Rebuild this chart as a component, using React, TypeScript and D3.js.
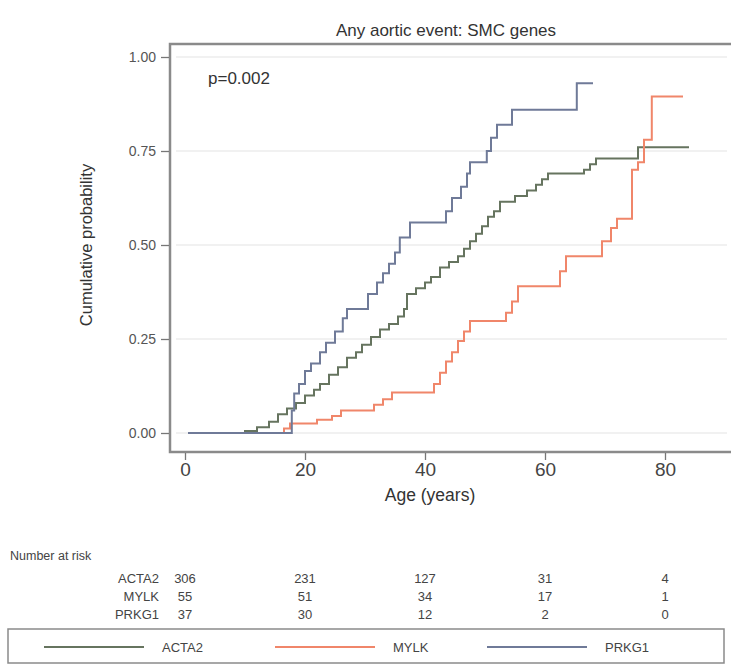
import React, { useEffect, useRef } from 'react';
import * as d3 from 'd3';

// step points: [age at which curve jumps, cumulative probability after jump]
const acta2 = [
  [0.5, 0], [10, 0.005], [12, 0.015], [14, 0.03], [15.5, 0.05], [17, 0.065], [18.5, 0.08],
  [20, 0.1], [21.5, 0.115], [22.5, 0.13], [24, 0.155], [25.5, 0.175], [27, 0.2], [28.5, 0.215],
  [29.5, 0.235], [31, 0.255], [32.5, 0.275], [34, 0.29], [35.5, 0.31], [36.5, 0.33], [37, 0.37],
  [38.5, 0.385], [40, 0.4], [41, 0.415], [42.5, 0.44], [44, 0.455], [45.5, 0.47], [46.5, 0.49],
  [47.5, 0.51], [48.5, 0.53], [49.5, 0.55], [50.5, 0.575], [51.5, 0.59], [52.5, 0.615],
  [55, 0.63], [57, 0.645], [58.5, 0.66], [59.5, 0.675], [60.5, 0.69], [66.5, 0.7], [67.5, 0.715],
  [68.5, 0.73], [75.5, 0.76], [84, 0.76],
];
const mylk = [
  [0.5, 0], [16.5, 0.012], [17.5, 0.025], [22, 0.035], [24.5, 0.045], [26, 0.06], [31.5, 0.075],
  [33, 0.09], [34.5, 0.108], [41.5, 0.13], [42.5, 0.16], [43.5, 0.19], [44.5, 0.215],
  [45.5, 0.245], [46.5, 0.27], [47.5, 0.298], [53.5, 0.32], [54.5, 0.35], [55.5, 0.39],
  [62.5, 0.43], [63.5, 0.47], [69.5, 0.51], [71, 0.545], [72, 0.57], [74.5, 0.7], [75.5, 0.72],
  [76.5, 0.78], [77.8, 0.895], [83, 0.895],
];
const prkg1 = [
  [0.5, 0], [17.8, 0.06], [18.2, 0.105], [19, 0.13], [20, 0.165], [21, 0.185], [22.5, 0.215],
  [23.5, 0.24], [25, 0.27], [26.3, 0.305], [27, 0.33], [30.5, 0.37], [32, 0.4], [33, 0.425],
  [34, 0.45], [35, 0.48], [35.8, 0.52], [37.5, 0.56], [43.5, 0.59], [44.5, 0.625], [46, 0.655],
  [47, 0.69], [47.5, 0.72], [50.3, 0.75], [51, 0.785], [52, 0.82], [54.5, 0.86], [65.3, 0.93],
  [68, 0.93],
];

const groups = ['ACTA2', 'MYLK', 'PRKG1'];
const colors = ['#66745f', '#f0866a', '#6f7a98'];
const yTicks = [0, 0.25, 0.5, 0.75, 1];
const xTicks = [0, 20, 40, 60, 80];
const riskActa2 = [306, 231, 127, 31, 4];
const riskMylk = [55, 51, 34, 17, 1];
const riskPrkg1 = [37, 30, 12, 2, 0];

export default function App() {
  const ref = useRef<SVGSVGElement>(null);

  useEffect(() => {
    const svg = d3.select(ref.current);
    svg.selectAll('*').remove();
    const font = 'Liberation Sans, Arial, sans-serif';
    const txt = '#333';

    const left = 170, right = 733, top = 44, bottom = 452;
    const x = d3.scaleLinear().domain([0, 80]).range([185, 665]);
    const y = d3.scaleLinear().domain([0, 1]).range([433, 57]);

    svg.append('rect').attr('width', 731).attr('height', 668).attr('fill', '#fff');

    // title
    svg.append('text').attr('x', 446).attr('y', 36).attr('text-anchor', 'middle')
      .style('font', `17px ${font}`).attr('fill', txt).text('Any aortic event: SMC genes');

    // grid
    svg.append('g').selectAll('line').data(yTicks).join('line')
      .attr('x1', left + 6).attr('x2', right - 6)
      .attr('y1', d => y(d)).attr('y2', d => y(d))
      .attr('stroke', '#ececec').attr('stroke-width', 1.5);

    // frame
    svg.append('rect').attr('x', left).attr('y', top).attr('width', right - left).attr('height', bottom - top)
      .attr('fill', 'none').attr('stroke', '#8a8a8a').attr('stroke-width', 2.5);

    // y axis
    const ya = svg.append('g').attr('transform', `translate(${left - 1},0)`)
      .call(d3.axisLeft(y).tickValues(yTicks).tickFormat(d3.format('.2f')).tickSize(8).tickPadding(5));
    ya.select('.domain').remove();
    ya.selectAll('line').attr('stroke', '#777').attr('stroke-width', 1.3);
    ya.selectAll('text').style('font', `14px ${font}`).attr('fill', '#555');

    svg.append('text').attr('transform', 'translate(92,245) rotate(-90)').attr('text-anchor', 'middle')
      .style('font', `16.5px ${font}`).attr('fill', txt).text('Cumulative probability');

    // x axis
    const xa = svg.append('g').attr('transform', `translate(0,${bottom + 1})`)
      .call(d3.axisBottom(x).tickValues(xTicks).tickSize(7).tickPadding(3));
    xa.select('.domain').remove();
    xa.selectAll('line').attr('stroke', '#777').attr('stroke-width', 1.3);
    xa.selectAll('text').style('font', `19px ${font}`).attr('fill', '#444');

    svg.append('text').attr('x', 430).attr('y', 501).attr('text-anchor', 'middle')
      .style('font', `17.5px ${font}`).attr('fill', txt).text('Age (years)');

    svg.append('text').attr('x', 208).attr('y', 84)
      .style('font', `17px ${font}`).attr('fill', txt).text('p=0.002');

    // curves
    const line = d3.line<number[]>().x(d => x(d[0])).y(d => y(d[1])).curve(d3.curveStepAfter);
    [acta2, mylk, prkg1].forEach((s, i) => {
      svg.append('path').datum(s).attr('d', line).attr('fill', 'none')
        .attr('stroke', colors[i]).attr('stroke-width', 2);
    });

    // number at risk
    svg.append('text').attr('x', 10).attr('y', 560).style('font', `12.5px ${font}`).attr('fill', '#444')
      .text('Number at risk');
    [riskActa2, riskMylk, riskPrkg1].forEach((r, i) => {
      const yy = 583 + i * 18;
      svg.append('text').attr('x', 159).attr('y', yy).attr('text-anchor', 'end')
        .style('font', `13px ${font}`).attr('fill', '#444').text(groups[i]);
      svg.append('g').selectAll('text').data(r).join('text')
        .attr('x', (d, j) => x(xTicks[j])).attr('y', yy).attr('text-anchor', 'middle')
        .style('font', `13px ${font}`).attr('fill', '#444').text(d => d);
    });

    // legend
    svg.append('rect').attr('x', 8).attr('y', 629).attr('width', 716).attr('height', 34)
      .attr('fill', 'none').attr('stroke', '#8a8a8a').attr('stroke-width', 1.5);
    const lx = [44, 275, 487];
    groups.forEach((g, i) => {
      svg.append('line').attr('x1', lx[i]).attr('x2', lx[i] + 100).attr('y1', 647).attr('y2', 647)
        .attr('stroke', colors[i]).attr('stroke-width', 2);
      svg.append('text').attr('x', lx[i] + 118).attr('y', 652)
        .style('font', `13px ${font}`).attr('fill', '#444').text(g);
    });
  }, []);

  return (
    <svg ref={ref} width={731} height={668}
      style={{ position: 'absolute', left: 0, top: 0 }} />
  );
}
